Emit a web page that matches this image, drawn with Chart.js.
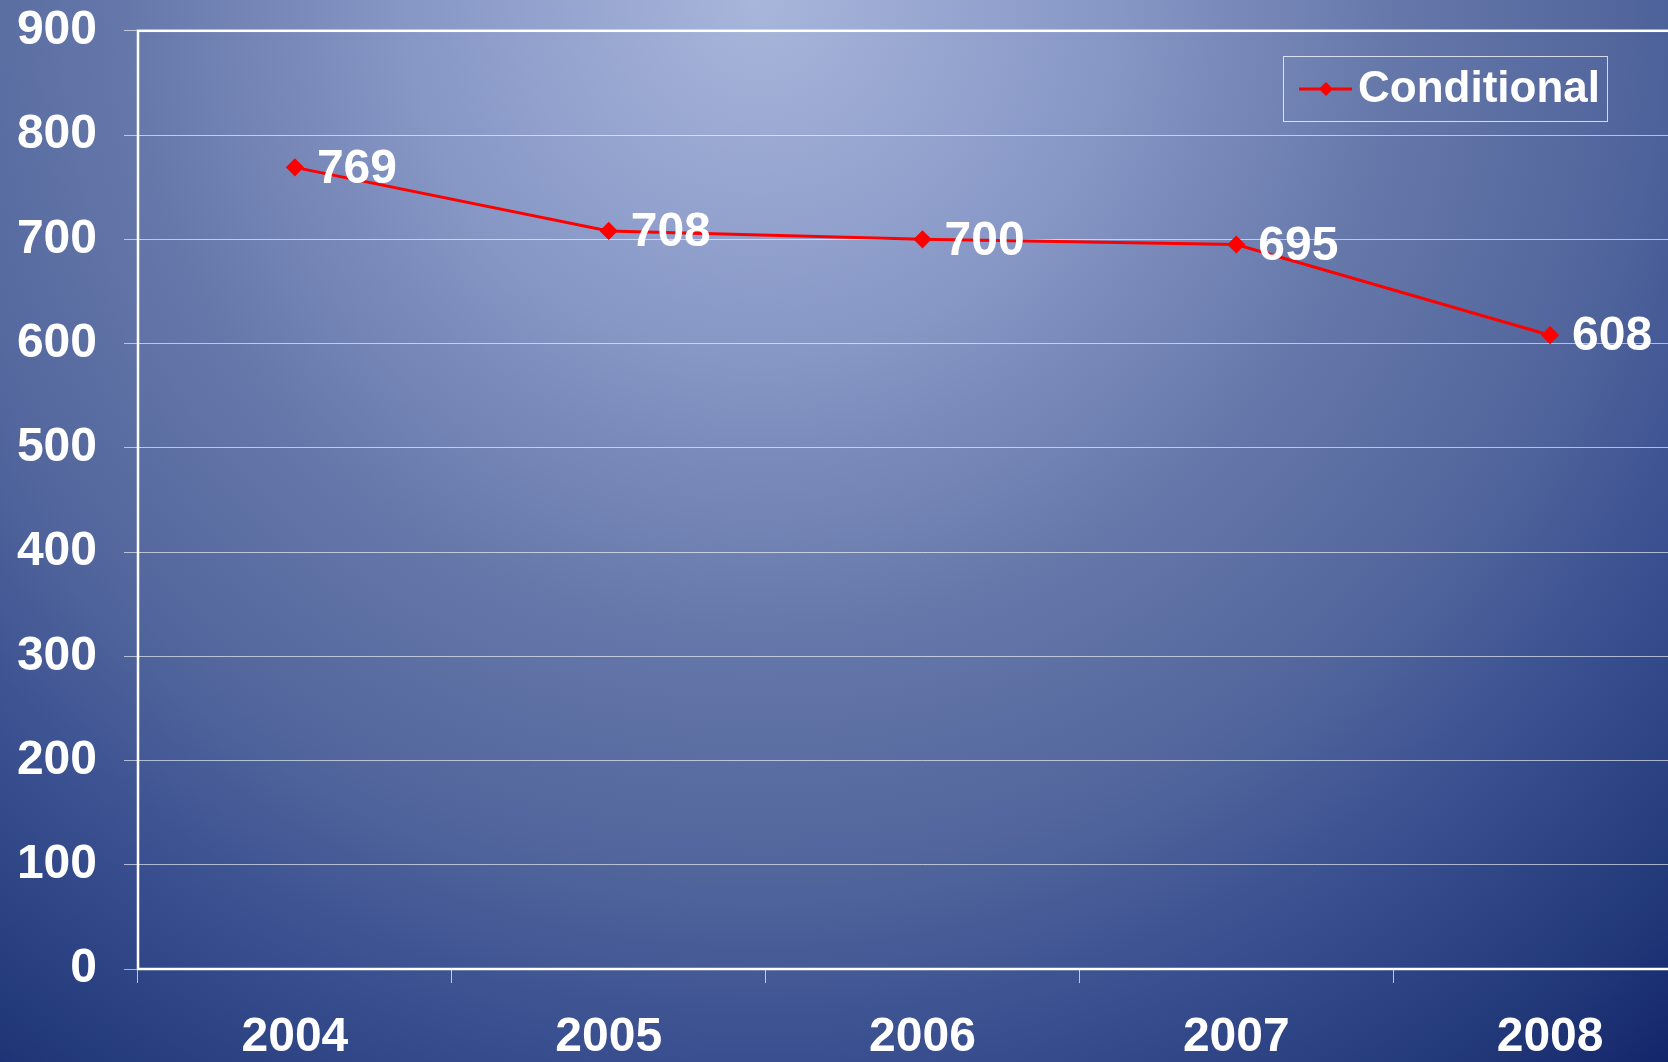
<!DOCTYPE html>
<html>
<head>
<meta charset="utf-8">
<script src="https://cdn.jsdelivr.net/npm/chart.js@4"></script>
<style>
html, body { margin:0; padding:0; width:1668px; height:1062px; overflow:hidden; }
body {
  background: radial-gradient(circle 1400px at 760px 0px, #a8b6db 0%, #8797c6 25%, #6678aa 45%, #52669d 62%, #3a5090 75%, #233a7a 90%, #13256a 100%);
}
#wrap { position:absolute; left:0; top:-25px; width:1717px; height:1087px; }
</style>
</head>
<body>
<div id="wrap"><canvas id="c"></canvas></div>
<script>
const categories = ['2004', '2005', '2006', '2007', '2008'];
const seriesName = 'Conditional';
const values = [769, 708, 700, 695, 608];
const yMin = 0, yMax = 900, yStep = 100;

const FONT = '"Liberation Sans", Arial, sans-serif';

const valueLabels = {
  id: 'valueLabels',
  afterDatasetsDraw(chart) {
    const ctx = chart.ctx;
    const meta = chart.getDatasetMeta(0);
    ctx.save();
    ctx.fillStyle = '#ffffff';
    ctx.font = 'bold 48px ' + FONT;
    ctx.textAlign = 'left';
    ctx.textBaseline = 'middle';
    meta.data.forEach((pt, i) => {
      ctx.fillText(String(chart.data.datasets[0].data[i]), pt.x + 22, pt.y + 2);
    });
    ctx.restore();
  }
};

const frame = {
  id: 'frame',
  afterDraw(chart) {
    const a = chart.chartArea, ctx = chart.ctx;
    ctx.save();
    ctx.strokeStyle = '#ffffff';
    ctx.lineWidth = 2.5;
    ctx.strokeRect(a.left, a.top, a.right - a.left, a.bottom - a.top);
    // legend
    const ds = chart.data.datasets[0];
    const bx = 1283, by = Math.round(a.top) + 25, bw = 324, bh = 65;
    ctx.lineWidth = 1;
    ctx.strokeStyle = 'rgba(255,255,255,0.75)';
    ctx.strokeRect(bx + 0.5, by + 0.5, bw, bh);
    const ly = by + 33;
    ctx.strokeStyle = ds.borderColor;
    ctx.lineWidth = 3;
    ctx.beginPath(); ctx.moveTo(1299, ly); ctx.lineTo(1352, ly); ctx.stroke();
    ctx.fillStyle = ds.borderColor;
    ctx.beginPath();
    ctx.moveTo(1326, ly - 7); ctx.lineTo(1333, ly); ctx.lineTo(1326, ly + 7); ctx.lineTo(1319, ly);
    ctx.closePath(); ctx.fill();
    ctx.fillStyle = '#ffffff';
    ctx.font = 'bold 44px ' + FONT;
    ctx.textAlign = 'left';
    ctx.textBaseline = 'middle';
    ctx.fillText(ds.label, 1358, ly + 1);
    ctx.restore();
  }
};

new Chart(document.getElementById('c'), {
  type: 'line',
  data: {
    labels: categories,
    datasets: [{
      label: seriesName,
      data: values,
      borderColor: '#ff0000',
      backgroundColor: '#ff0000',
      borderWidth: 3,
      pointStyle: 'rectRot',
      pointRadius: 7,
      pointHoverRadius: 7,
      tension: 0,
      fill: false
    }]
  },
  options: {
    responsive: true,
    maintainAspectRatio: false,
    animation: false,
    layout: { padding: { top: 0, right: 0, left: 0, bottom: 0 } },
    plugins: { legend: { display: false }, tooltip: { enabled: false } },
    scales: {
      x: {
        offset: true,
        grid: { offset: true, drawOnChartArea: false, drawTicks: true, tickLength: 14, color: 'rgba(255,255,255,0.7)', lineWidth: 1 },
        border: { display: false },
        ticks: { color: '#ffffff', font: { family: FONT, size: 48, weight: 'bold' }, padding: 26, maxRotation: 0 },
        afterFit(s) { s.height = 93; }
      },
      y: {
        min: yMin, max: yMax,
        grid: { color: 'rgba(255,255,255,0.6)', lineWidth: 1, tickLength: 14 },
        border: { display: false },
        ticks: { stepSize: yStep, color: '#ffffff', font: { family: FONT, size: 48, weight: 'bold' }, padding: 27 },
        afterFit(s) { s.width = 138; }
      }
    }
  },
  plugins: [valueLabels, frame]
});
</script>
</body>
</html>
